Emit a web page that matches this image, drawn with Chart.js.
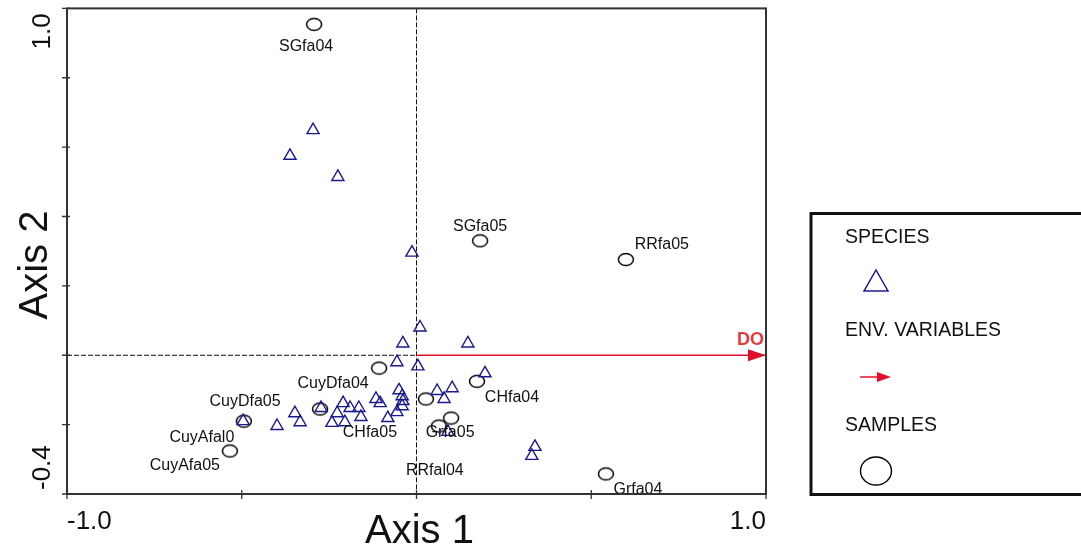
<!DOCTYPE html>
<html>
<head>
<meta charset="utf-8">
<script src="https://cdn.jsdelivr.net/npm/chart.js@4.4.1/dist/chart.umd.min.js"></script>
<style>
  html, body { margin: 0; padding: 0; background: #fff; }
</style>
</head>
<body>
<canvas id="myChart" width="1081" height="554"></canvas>
<script>
// species scores (triangles)
const speciesX = [-0.296, -0.362, -0.225, -0.013, 0.010, -0.039, 0.147, -0.056, 0.004, 0.196,
  0.102, 0.059, 0.079, -0.050, -0.041, -0.039, -0.041, -0.056, -0.082, -0.116,
  -0.104, -0.165, -0.159, -0.190, -0.210, -0.227, -0.242, -0.205, -0.273, -0.348,
  -0.333, -0.399, -0.496, 0.090, 0.339, 0.330];
const speciesY = [0.649, 0.575, 0.514, 0.296, 0.080, 0.034, 0.034, -0.020, -0.032, -0.052,
  -0.095, -0.103, -0.126, -0.101, -0.118, -0.132, -0.147, -0.164, -0.181, -0.126,
  -0.138, -0.152, -0.178, -0.152, -0.138, -0.167, -0.195, -0.193, -0.152, -0.167,
  -0.193, -0.204, -0.190, -0.221, -0.264, -0.290];

// sample scores (circles)
const sampleNames = ["SGfa04", "SGfa05", "RRfa05", "CHfa04", "CuyDfa04", "CuyDfa05",
  "CuyAfal0", "CuyAfa05", "CHfa05", "Grfa05", "RRfal04", "Grfa04"];
const sampleX = [-0.293, 0.182, 0.599, 0.173, -0.107, -0.276, -0.494, -0.534, 0.027, 0.099, 0.064, 0.542];
const sampleY = [0.954, 0.330, 0.276, -0.075, -0.037, -0.155, -0.190, -0.276, -0.126, -0.181, -0.204, -0.342];

// environmental variables (arrows)
const envNames = ["DO"];
const envX = [1.0];
const envY = [0.0];

const xTickLabels = ["-1.0", "1.0"];
const yTickLabels = ["-0.4", "1.0"];

// where each sample label sits relative to its marker (px)
const labelOffsets = [[-8, 22], [0, -14], [36, -15], [35, 16], [-46, 16], [-75, -7],
  [-42, 16], [-45, 15], [-56, 34], [-1, 15], [-4, 45], [32, 16]];

const NAVY = "#1a1a8c";
const RED = "#e0102a";
const FONT = "'Liberation Sans', Arial, sans-serif";

function ellipseImg(rx, ry, lw) {
  const c = document.createElement("canvas");
  c.width = Math.ceil(rx * 2 + lw * 2 + 2);
  c.height = Math.ceil(ry * 2 + lw * 2 + 2);
  const g = c.getContext("2d");
  g.strokeStyle = "#000";
  g.lineWidth = lw;
  g.beginPath();
  g.ellipse(c.width / 2, c.height / 2, rx, ry, 0, 0, Math.PI * 2);
  g.stroke();
  return c;
}

const sampleMarker = ellipseImg(7.5, 6, 1.5);

const envDatasets = envNames.map((n, i) => ({
  label: n,
  data: [{ x: 0, y: 0 }, { x: envX[i], y: envY[i] }],
  showLine: true,
  borderColor: RED,
  borderWidth: 1.6,
  pointRadius: 0,
  order: 3,
}));

const ordPlugin = {
  id: "ordination",
  beforeDatasetsDraw(chart) {
    const { ctx, chartArea: a, scales: { x, y } } = chart;
    const x0 = x.getPixelForValue(0), y0 = y.getPixelForValue(0);
    ctx.save();
    ctx.strokeStyle = "#111";
    ctx.lineWidth = 1;
    ctx.setLineDash([5, 2]);
    ctx.beginPath();
    ctx.moveTo(x0, a.top); ctx.lineTo(x0, a.bottom);
    ctx.moveTo(a.left, y0); ctx.lineTo(x0, y0);
    ctx.stroke();
    ctx.restore();
  },
  afterDatasetsDraw(chart) {
    const { ctx, chartArea: a, scales: { x, y } } = chart;
    ctx.save();

    // arrow heads + env labels
    envNames.forEach((n, i) => {
      const tx = x.getPixelForValue(envX[i]), ty = y.getPixelForValue(envY[i]);
      const ox = x.getPixelForValue(0), oy = y.getPixelForValue(0);
      const ang = Math.atan2(ty - oy, tx - ox);
      ctx.fillStyle = RED;
      ctx.beginPath();
      ctx.moveTo(tx, ty);
      ctx.lineTo(tx - 18 * Math.cos(ang) + 6 * Math.sin(ang), ty - 18 * Math.sin(ang) - 6 * Math.cos(ang));
      ctx.lineTo(tx - 18 * Math.cos(ang) - 6 * Math.sin(ang), ty - 18 * Math.sin(ang) + 6 * Math.cos(ang));
      ctx.closePath();
      ctx.fill();
      ctx.fillStyle = "#e63a3a";
      ctx.font = "bold 18px " + FONT;
      ctx.textAlign = "right";
      ctx.textBaseline = "alphabetic";
      ctx.fillText(n, tx - 2, ty - 10);
    });

    // sample labels
    const meta = chart.getDatasetMeta(1);
    ctx.fillStyle = "#111";
    ctx.font = "16px " + FONT;
    ctx.textAlign = "center";
    ctx.textBaseline = "middle";
    meta.data.forEach((pt, i) => {
      ctx.fillText(sampleNames[i], pt.x + labelOffsets[i][0], pt.y + labelOffsets[i][1]);
    });

    // frame and ticks
    ctx.strokeStyle = "#333";
    ctx.lineWidth = 2;
    ctx.strokeRect(a.left, a.top, a.right - a.left, a.bottom - a.top);
    ctx.lineWidth = 1.3;
    ctx.beginPath();
    y.ticks.forEach(t => {
      const py = y.getPixelForValue(t.value);
      ctx.moveTo(a.left - 5, py); ctx.lineTo(a.left + 3, py);
    });
    x.ticks.forEach(t => {
      const px = x.getPixelForValue(t.value);
      ctx.moveTo(px, a.bottom - 4); ctx.lineTo(px, a.bottom + 5);
    });
    ctx.stroke();

    // tick labels
    ctx.fillStyle = "#111";
    ctx.font = "26px " + FONT;
    ctx.textBaseline = "alphabetic";
    ctx.textAlign = "left";
    ctx.fillText(xTickLabels[0], a.left, 529);
    ctx.textAlign = "right";
    ctx.fillText(xTickLabels[1], a.right, 529);
    ctx.save();
    ctx.translate(50, a.bottom - 4);
    ctx.rotate(-Math.PI / 2);
    ctx.textAlign = "left";
    ctx.fillText(yTickLabels[0], 0, 0);
    ctx.restore();
    ctx.save();
    ctx.translate(50, a.top + 5);
    ctx.rotate(-Math.PI / 2);
    ctx.textAlign = "right";
    ctx.fillText(yTickLabels[1], 0, 0);
    ctx.restore();

    // axis titles
    ctx.font = "40px " + FONT;
    ctx.textAlign = "center";
    ctx.fillText("Axis 1", (a.left + a.right) / 2 + 3, 543);
    ctx.save();
    ctx.translate(47, 265);
    ctx.rotate(-Math.PI / 2);
    ctx.fillText("Axis 2", 0, 0);
    ctx.restore();

    // legend box
    ctx.strokeStyle = "#111";
    ctx.lineWidth = 3;
    ctx.strokeRect(811, 213.5, 300, 281);
    ctx.fillStyle = "#111";
    ctx.font = "19.5px " + FONT;
    ctx.textAlign = "left";
    ctx.textBaseline = "middle";
    ctx.fillText("SPECIES", 845, 238);
    ctx.fillText("ENV. VARIABLES", 845, 331);
    ctx.fillText("SAMPLES", 845, 426);
    // triangle
    ctx.strokeStyle = NAVY;
    ctx.lineWidth = 1.5;
    ctx.beginPath();
    ctx.moveTo(876, 270); ctx.lineTo(888, 291); ctx.lineTo(864, 291); ctx.closePath();
    ctx.stroke();
    // arrow
    ctx.strokeStyle = RED;
    ctx.lineWidth = 1.5;
    ctx.beginPath(); ctx.moveTo(860, 377); ctx.lineTo(880, 377); ctx.stroke();
    ctx.fillStyle = RED;
    ctx.beginPath(); ctx.moveTo(891, 377); ctx.lineTo(877, 372); ctx.lineTo(877, 382); ctx.closePath(); ctx.fill();
    // circle
    ctx.strokeStyle = "#000";
    ctx.lineWidth = 1.4;
    ctx.beginPath(); ctx.ellipse(876, 471, 15.5, 14, 0, 0, Math.PI * 2); ctx.stroke();

    ctx.restore();
  },
};

new Chart(document.getElementById("myChart"), {
  type: "scatter",
  data: {
    datasets: [
      {
        label: "SPECIES",
        data: speciesX.map((v, i) => ({ x: v, y: speciesY[i] })),
        pointStyle: "triangle",
        pointRadius: 7,
        pointBorderColor: NAVY,
        pointBackgroundColor: "rgba(0,0,0,0)",
        pointBorderWidth: 1.4,
        order: 1,
      },
      {
        label: "SAMPLES",
        data: sampleX.map((v, i) => ({ x: v, y: sampleY[i] })),
        pointStyle: sampleMarker,
        pointRadius: 7,
        order: 2,
      },
      ...envDatasets,
    ],
  },
  options: {
    responsive: false,
    animation: false,
    layout: { padding: { left: 0, top: 7, right: 315, bottom: 0 } },
    scales: {
      x: {
        type: "linear",
        min: -1,
        max: 1,
        ticks: { stepSize: 0.5, display: false },
        grid: { display: false },
        border: { display: false },
        afterFit: s => { s.height = 60; },
      },
      y: {
        type: "linear",
        min: -0.4,
        max: 1.0,
        ticks: { stepSize: 0.2, display: false },
        grid: { display: false },
        border: { display: false },
        afterFit: s => { s.width = 67; },
      },
    },
    plugins: {
      legend: { display: false },
      tooltip: { enabled: false },
    },
  },
  plugins: [ordPlugin],
});
</script>
</body>
</html>
